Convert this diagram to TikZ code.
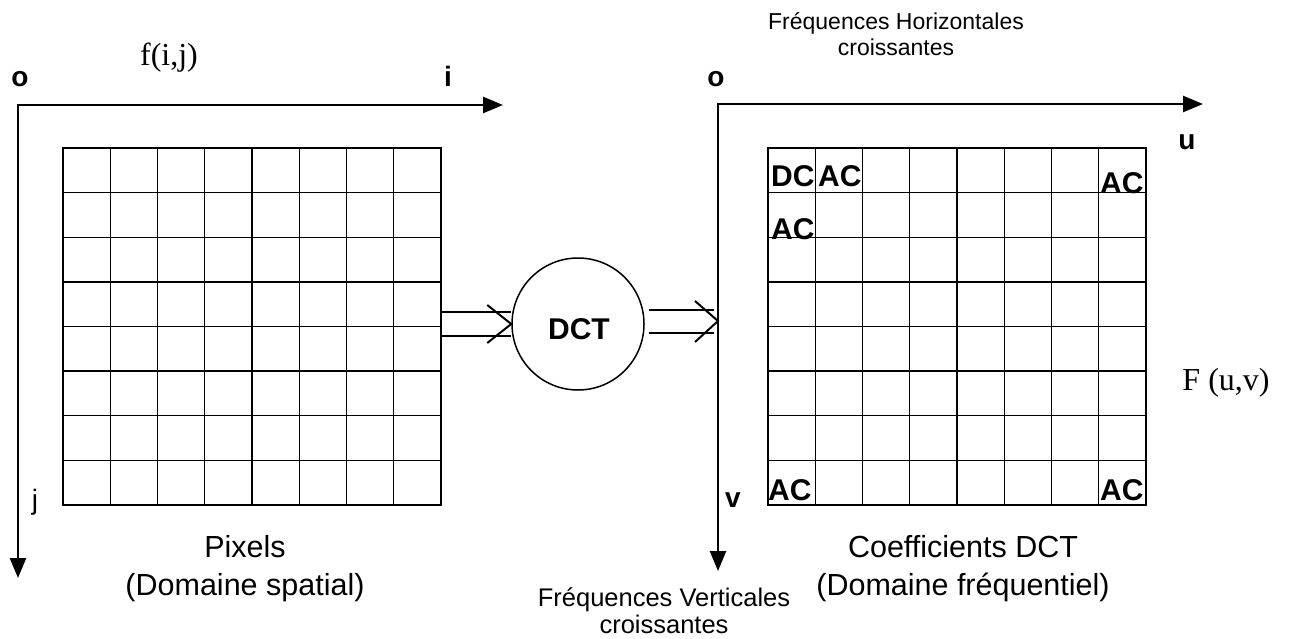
\documentclass[tikz,border=0pt]{standalone}
\usepackage{fontspec}
\setmainfont{Liberation Sans}
\newfontfamily\serifface{Liberation Serif}
\usetikzlibrary{arrows.meta,calc}
\begin{document}
\begin{tikzpicture}[x=1pt,y=-1pt,
  axis/.style={line width=2.6pt,line join=miter,
    {Triangle[length=20pt,width=16pt]}-{Triangle[length=20pt,width=16pt]}},
  cellgrid/.style={line width=1.3pt},
  gridbox/.style={draw,cellgrid,minimum width=378pt,minimum height=357pt,
    inner sep=0pt,outer sep=0pt,anchor=north west},
  dblline/.style={line width=2pt},
  txt/.style={inner sep=0pt,anchor=base,font=\fontsize{30.5}{34}\selectfont},
  smalltxt/.style={inner sep=0pt,anchor=base,font=\fontsize{23}{26}\selectfont},
  midtxt/.style={inner sep=0pt,anchor=base,font=\fontsize{25.5}{28}\selectfont},
  axlbl/.style={inner sep=0pt,anchor=base,font=\fontsize{28}{30}\selectfont\bfseries},
  coef/.style={inner sep=0pt,anchor=base west,font=\fontsize{30}{34}\selectfont\bfseries},
  fn/.style={inner sep=0pt,anchor=base,font=\fontsize{32}{36}\selectfont\serifface},
]
\useasboundingbox (0,0) rectangle (1290,639);

% ---------- spatial domain ----------
\coordinate (oL) at (18,105);
\coordinate (iEnd) at (503,105);
\coordinate (jEnd) at (18,578);
\draw[axis] (iEnd) -- (oL) -- (jEnd);

\node[axlbl] (oLlbl) at (20,87) {o};
\node[axlbl] (ilbl) at (448,87) {i};
\node[inner sep=0pt,anchor=base,font=\fontsize{28}{30}\selectfont] (jlbl) at (35,509) {j};
\node[fn] (fij) at (169,66) {f(i,j)};

\node[gridbox] (gridL) at (63,148) {};
\foreach \k in {1,...,7}{
  \draw[cellgrid] ($(gridL.north west)!\k/8!(gridL.north east)$) -- ($(gridL.south west)!\k/8!(gridL.south east)$);
  \draw[cellgrid] ($(gridL.north west)!\k/8!(gridL.south west)$) -- ($(gridL.north east)!\k/8!(gridL.south east)$);
}
\node[txt] (pix) at (245,557) {Pixels};
\node[txt] (pixdom) at (245,595) {(Domaine spatial)};

% ---------- transform ----------
\node[draw,circle,line width=1.5pt,minimum size=132pt,inner sep=0pt] (dct) at (578,324) {};
\node[inner sep=0pt,anchor=base,font=\fontsize{30}{34}\selectfont\bfseries] (dctlbl) at (579,339) {DCT};

\coordinate (tipL) at (dct.west);
\draw[dblline] ($(gridL.east|-tipL)+(0,-12)$) -- ($(tipL)+(0,-12)$);
\draw[dblline] ($(gridL.east|-tipL)+(0,12)$) -- ($(tipL)+(0,12)$);
\draw[dblline] ($(tipL)+(-24,-19)$) -- (tipL) -- ($(tipL)+(-24,19)$);

% ---------- frequency domain ----------
\coordinate (oR) at (718,104);
\coordinate (uEnd) at (1203,104);
\coordinate (vEnd) at (718,571);
\draw[axis] (uEnd) -- (oR) -- (vEnd);

\coordinate (tipR) at ($(oR |- dct.east)+(0,-3)$);
\draw[dblline] ($(dct.east)+(4,-14.5)$) -- ($(tipR)+(-4,-11.5)$);
\draw[dblline] ($(dct.east)+(4,8.5)$) -- ($(tipR)+(-4,11.5)$);
\draw[dblline] ($(tipR)+(-23,-20)$) -- (tipR) -- ($(tipR)+(-23,21)$);

\node[axlbl] (oRlbl) at (716,87) {o};
\node[axlbl] (ulbl) at (1187,150) {u};
\node[axlbl] (vlbl) at (733,507) {v};
\node[fn] (Fuv) at (1226,390) {F (u,v)};

\node[smalltxt] (fh1) at (896,30) {Fréquences Horizontales};
\node[smalltxt] (fh2) at (896,56) {croissantes};
\node[midtxt] (fv1) at (664,606) {Fréquences Verticales};
\node[midtxt] (fv2) at (664,633) {croissantes};

\node[gridbox] (gridR) at (768,148) {};
\foreach \k in {1,...,7}{
  \draw[cellgrid] ($(gridR.north west)!\k/8!(gridR.north east)$) -- ($(gridR.south west)!\k/8!(gridR.south east)$);
  \draw[cellgrid] ($(gridR.north west)!\k/8!(gridR.south west)$) -- ($(gridR.north east)!\k/8!(gridR.south east)$);
}
\node[coef] (c00) at (771,187) {DC};
\node[coef] (c10) at (818,187) {AC};
\node[coef] (c70) at (1100,194) {AC};
\node[coef] (c01) at (771,239) {AC};
\node[coef] (c07) at (768,500) {AC};
\node[coef] (c77) at (1100,500) {AC};

\node[txt] (coefs) at (963,557) {Coefficients DCT};
\node[txt] (coefdom) at (963,595) {(Domaine fréquentiel)};
\end{tikzpicture}
\end{document}
